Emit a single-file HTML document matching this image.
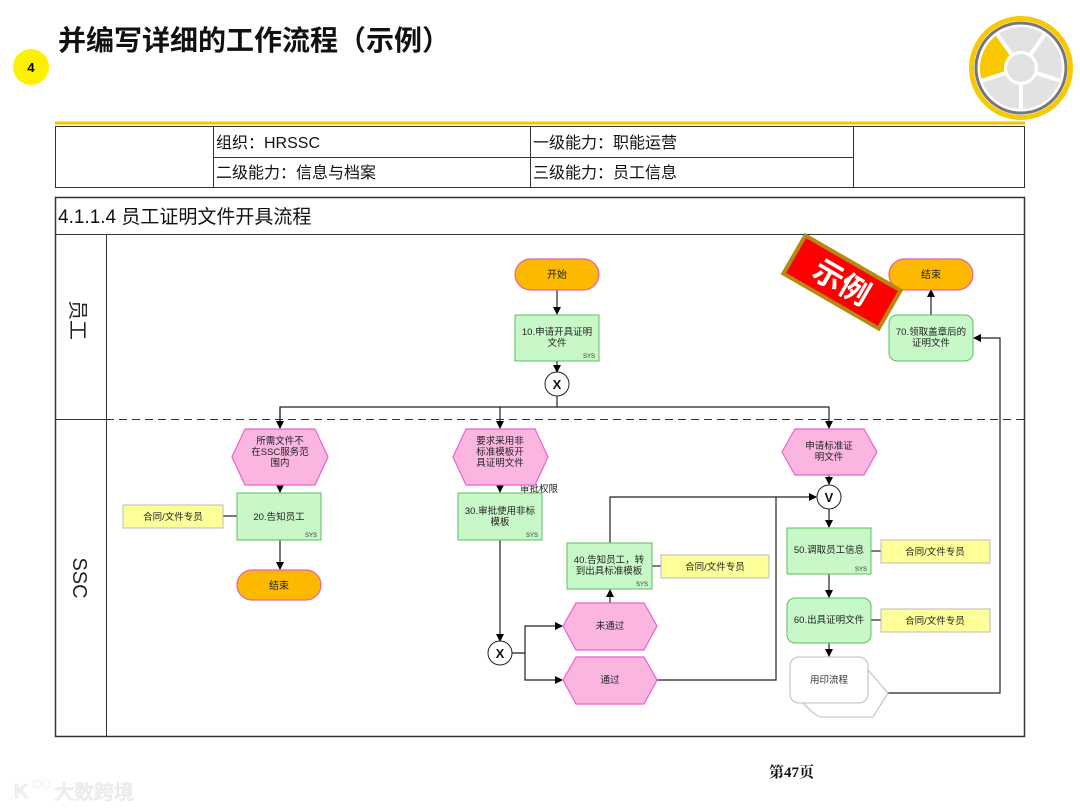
<!DOCTYPE html>
<html><head><meta charset="utf-8"><style>
html,body{margin:0;padding:0;background:#fff;}
svg{display:block;font-family:"Liberation Sans","Noto Sans CJK SC",sans-serif;}
</style></head><body>
<svg width="1080" height="810" viewBox="0 0 1080 810" xmlns="http://www.w3.org/2000/svg">
<defs>
<marker id="ar" markerWidth="8" markerHeight="8" refX="7" refY="4" orient="auto" markerUnits="userSpaceOnUse">
<path d="M0,0 L8,4 L0,8 z" fill="#000"/></marker>
</defs>
<text x="58" y="50" font-size="28" font-weight="bold" fill="#111">并编写详细的工作流程（示例）</text>
<circle cx="31" cy="67" r="18" fill="#ffef00"/>
<text x="31" y="72" font-size="13" font-weight="bold" text-anchor="middle">4</text>
<g transform="translate(1021,68)">
<circle r="52" fill="#f8c800"/>
<circle r="47" fill="#fff"/>
<circle r="45" fill="none" stroke="#777" stroke-width="3"/>
<circle r="41" fill="#e2e2e2"/>
<path d="M0,0 L-39,13 A41,41 0 0 1 -24,-33 Z" fill="#f8c800"/>
<g stroke="#fff" stroke-width="4">
<line x1="0" y1="0" x2="0" y2="42"/>
<line x1="0" y1="0" x2="-40" y2="13"/>
<line x1="0" y1="0" x2="-24" y2="-34"/>
<line x1="0" y1="0" x2="24" y2="-34"/>
<line x1="0" y1="0" x2="40" y2="13"/>
</g>
<circle r="17" fill="#fff"/><circle r="14" fill="#e2e2e2"/>
</g>
<line x1="55" y1="123" x2="1025" y2="123" stroke="#f5c400" stroke-width="3"/>
<g fill="none" stroke="#333" stroke-width="1">
<rect x="55.5" y="126.5" width="969" height="61"/>
<line x1="213.5" y1="126" x2="213.5" y2="188"/>
<line x1="530.5" y1="126" x2="530.5" y2="188"/>
<line x1="853.5" y1="126" x2="853.5" y2="188"/>
<line x1="213" y1="157.5" x2="853" y2="157.5"/>
</g>
<g font-size="16" fill="#111">
<text x="216" y="148">组织：HRSSC</text>
<text x="533" y="148">一级能力：职能运营</text>
<text x="216" y="178">二级能力：信息与档案</text>
<text x="533" y="178">三级能力：员工信息</text>
</g>
<g fill="none" stroke="#333">
<rect x="55.5" y="197.5" width="969" height="539" stroke-width="1.5"/>
<line x1="55" y1="234.5" x2="1025" y2="234.5"/>
<line x1="106.5" y1="234" x2="106.5" y2="737"/>
<line x1="55" y1="419.5" x2="106" y2="419.5"/>
<line x1="106" y1="419.5" x2="1025" y2="419.5" stroke-dasharray="8,5"/>
</g>
<text x="58" y="223" font-size="19" fill="#111">4.1.1.4 员工证明文件开具流程</text>
<text transform="translate(71,320) rotate(90)" font-size="20" text-anchor="middle" fill="#222">员工</text>
<text transform="translate(73,578) rotate(90)" font-size="20" text-anchor="middle" fill="#222">SSC</text>

<g stroke="#222" stroke-width="1.2" fill="none">
<line x1="557" y1="289" x2="557" y2="314" marker-end="url(#ar)"/>
<line x1="557" y1="361" x2="557" y2="372" marker-end="url(#ar)"/>
<line x1="557" y1="396" x2="557" y2="407"/>
<polyline points="280,428 280,407 829,407 829,428" marker-end="url(#ar)"/>
<line x1="280" y1="407" x2="280" y2="428" marker-end="url(#ar)"/>
<line x1="500" y1="407" x2="500" y2="428" marker-end="url(#ar)"/>
<line x1="280" y1="485" x2="280" y2="492" marker-end="url(#ar)"/>
<line x1="223" y1="516" x2="237" y2="516"/>
<line x1="280" y1="540" x2="280" y2="569" marker-end="url(#ar)"/>
<line x1="500" y1="485" x2="500" y2="492" marker-end="url(#ar)"/>
<line x1="500" y1="540" x2="500" y2="641" marker-end="url(#ar)"/>
<polyline points="512,653 525,653 525,626 562,626" marker-end="url(#ar)"/>
<polyline points="525,653 525,680 562,680" marker-end="url(#ar)"/>
<line x1="610" y1="603" x2="610" y2="590" marker-end="url(#ar)"/>
<line x1="652" y1="566" x2="661" y2="566"/>
<polyline points="610,543 610,497 816,497" marker-end="url(#ar)"/>
<polyline points="657,680 776,680 776,497"/>
<line x1="829" y1="475" x2="829" y2="484" marker-end="url(#ar)"/>
<line x1="829" y1="509" x2="829" y2="527" marker-end="url(#ar)"/>
<line x1="871" y1="551" x2="881" y2="551"/>
<line x1="829" y1="574" x2="829" y2="597" marker-end="url(#ar)"/>
<line x1="871" y1="620" x2="881" y2="620"/>
<line x1="829" y1="643" x2="829" y2="656" marker-end="url(#ar)"/>
<polyline points="888,693 1000,693 1000,338 974,338" marker-end="url(#ar)"/>
<line x1="931" y1="315" x2="931" y2="290" marker-end="url(#ar)"/>
</g>

<g fill="#fdb900" stroke="#e85fb5" stroke-width="1.2">
<rect x="515" y="259" width="84" height="31" rx="15.5"/>
<rect x="237" y="570" width="84" height="30" rx="15"/>
<rect x="889" y="259" width="84" height="31" rx="15.5"/>
</g>
<g font-size="10" text-anchor="middle" fill="#222">
<text x="557" y="278">开始</text>
<text x="279" y="589">结束</text>
<text x="931" y="278">结束</text>
</g>

<g fill="#c8f7c8" stroke="#5cbf5c" stroke-width="1">
<rect x="515" y="315" width="84" height="46"/>
<rect x="237" y="493" width="84" height="47"/>
<rect x="458" y="493" width="84" height="47"/>
<rect x="567" y="543" width="85" height="46"/>
<rect x="787" y="528" width="84" height="46"/>
<rect x="787" y="598" width="84" height="45" rx="8"/>
<rect x="889" y="315" width="84" height="46" rx="8"/>
</g>
<g font-size="9.5" text-anchor="middle" fill="#222">
<text x="557" y="335">10.申请开具证明</text><text x="557" y="346">文件</text>
<text x="279" y="520">20.告知员工</text>
<text x="500" y="514">30.审批使用非标</text><text x="500" y="525">模板</text>
<text x="609" y="563">40.告知员工，转</text><text x="609" y="574">到出具标准模板</text>
<text x="829" y="553">50.调取员工信息</text>
<text x="829" y="623">60.出具证明文件</text>
<text x="931" y="335">70.领取盖章后的</text><text x="931" y="346">证明文件</text>
</g>
<g font-size="6" fill="#333" text-anchor="end">
<text x="595" y="358">SYS</text>
<text x="317" y="537">SYS</text>
<text x="538" y="537">SYS</text>
<text x="648" y="586">SYS</text>
<text x="867" y="571">SYS</text>
</g>
<text x="520" y="492" font-size="9.5" fill="#222">审批权限</text>

<g fill="#fff" stroke="#222" stroke-width="1">
<circle cx="557" cy="384" r="12"/>
<circle cx="500" cy="653" r="12"/>
<circle cx="829" cy="497" r="12"/>
</g>
<g font-size="13" font-weight="bold" text-anchor="middle" fill="#111">
<text x="557" y="389">X</text><text x="500" y="658">X</text><text x="829" y="502">V</text>
</g>

<g fill="#fbb6e0" stroke="#ec5fd0" stroke-width="1.2">
<polygon points="232,457 245,429 315,429 328,457 315,485 245,485"/>
<polygon points="453,457 466,429 535,429 548,457 535,485 466,485"/>
<polygon points="782,452 795,429 864,429 877,452 864,475 795,475"/>
<polygon points="563,626 576,603 644,603 657,626 644,650 576,650"/>
<polygon points="563,680 576,657 644,657 657,680 644,704 576,704"/>
</g>
<g font-size="9.5" text-anchor="middle" fill="#222">
<text x="280" y="444">所需文件不</text><text x="280" y="455">在SSC服务范</text><text x="280" y="466">围内</text>
<text x="500" y="444">要求采用非</text><text x="500" y="455">标准模板开</text><text x="500" y="466">具证明文件</text>
<text x="829" y="449">申请标准证</text><text x="829" y="460">明文件</text>
<text x="610" y="629">未通过</text>
<text x="610" y="683">通过</text>
</g>

<g fill="#ffff99" stroke="#bbb" stroke-width="1">
<rect x="123" y="505" width="100" height="23"/>
<rect x="661" y="555" width="108" height="23"/>
<rect x="881" y="540" width="109" height="23"/>
<rect x="881" y="609" width="109" height="23"/>
</g>
<g font-size="9.5" text-anchor="middle" fill="#222">
<text x="173" y="520">合同/文件专员</text>
<text x="715" y="570">合同/文件专员</text>
<text x="935" y="555">合同/文件专员</text>
<text x="935" y="624">合同/文件专员</text>
</g>

<polygon points="812,712 800,700 868,670 888,693 873,717 820,717" fill="#fff" stroke="#bbb"/>
<rect x="790" y="657" width="78" height="46" rx="9" fill="#fff" stroke="#bbb"/>
<text x="829" y="683" font-size="9.5" text-anchor="middle" fill="#333">用印流程</text>

<g transform="translate(842,282) rotate(30)">
<rect x="-57" y="-24" width="114" height="48" fill="#b48a10"/>
<rect x="-53" y="-20" width="106" height="40" fill="#ff0000"/>
<text x="0" y="11" font-size="30" text-anchor="middle" fill="#fff" font-weight="bold">示例</text>
</g>

<text x="769" y="777" font-size="15" fill="#111" font-family="Liberation Serif,Noto Serif CJK SC,serif" font-weight="bold">第47页</text>
<g fill="#f2f2f2" stroke="#e4e4e4" stroke-width="0.6">
<text x="14" y="798" font-size="20" font-weight="bold">K</text>
<circle cx="37" cy="784" r="4" fill="none"/><circle cx="46" cy="784" r="4" fill="none"/>
<text x="54" y="799" font-size="20">大数跨境</text>
</g>
</svg>
</body></html>
